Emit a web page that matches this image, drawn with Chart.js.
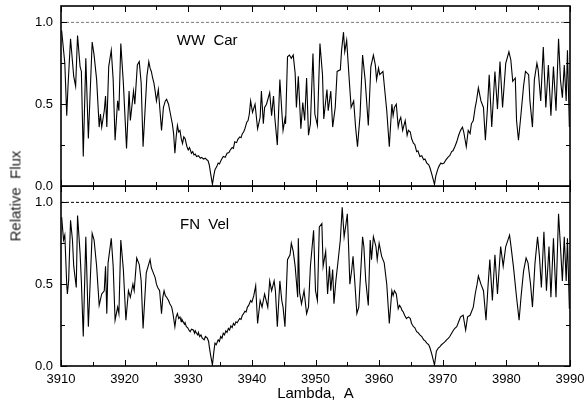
<!DOCTYPE html>
<html>
<head>
<meta charset="utf-8">
<script src="https://cdn.jsdelivr.net/npm/chart.js@4.4.1/dist/chart.umd.min.js"></script>
<style>
    html, body { margin: 0; padding: 0; background: #fff; }
    #wrap { position: relative; width: 584px; height: 411px; font-family: "Liberation Sans", Arial, sans-serif; }
    #topChart { position: absolute; left: 0; top: 0; }
    #botChart { position: absolute; left: 0; top: 186px; }
    #ylabel {
        position: absolute; left: 15px; top: 196px;
        transform: translate(-50%, -50%) rotate(-90deg);
        white-space: pre; font-size: 15px; color: #222;
    }
</style>
</head>
<body>
<div id="wrap">
    <canvas id="topChart" width="584" height="196"></canvas>
    <canvas id="botChart" width="584" height="225"></canvas>
    <div id="ylabel">Relative  Flux</div>
</div>
<script>
// WW Car spectrum: [wavelength A, relative flux]
const wwCar = [
    [3910.1, 0.95], [3910.6, 0.75], [3910.9, 0.43], [3911.1, 0.61], [3911.5, 0.90], [3912.0, 0.67],
    [3912.3, 0.61], [3912.6, 0.92], [3913.0, 0.73], [3913.2, 0.70], [3913.5, 0.18], [3913.9, 0.78],
    [3914.3, 0.29], [3914.9, 0.88], [3915.2, 0.80], [3915.6, 0.65], [3916.0, 0.36], [3916.2, 0.44],
    [3916.4, 0.36], [3916.8, 0.46], [3917.0, 0.55], [3917.2, 0.36], [3917.5, 0.73], [3917.9, 0.83],
    [3918.2, 0.65], [3918.5, 0.28], [3918.9, 0.52], [3919.1, 0.46], [3919.4, 0.87], [3919.8, 0.63],
    [3920.3, 0.23], [3920.7, 0.58], [3920.9, 0.40], [3921.4, 0.58], [3921.6, 0.50], [3922.0, 0.74],
    [3922.3, 0.76], [3922.6, 0.63], [3922.9, 0.24], [3923.5, 0.67], [3923.8, 0.76], [3924.0, 0.72],
    [3924.2, 0.70], [3924.4, 0.66], [3924.6, 0.63], [3924.8, 0.58], [3925.0, 0.52], [3925.3, 0.59],
    [3925.6, 0.44], [3925.8, 0.34], [3926.1, 0.48], [3926.4, 0.52], [3926.6, 0.53], [3926.9, 0.50],
    [3927.2, 0.44], [3927.5, 0.38], [3927.7, 0.32], [3927.9, 0.20], [3928.1, 0.30], [3928.3, 0.37],
    [3928.5, 0.33], [3928.7, 0.34], [3928.9, 0.29], [3929.1, 0.26], [3929.3, 0.30], [3929.5, 0.29],
    [3929.8, 0.24], [3930.0, 0.22], [3930.2, 0.235], [3930.5, 0.20], [3930.7, 0.21], [3930.9, 0.19],
    [3931.1, 0.195], [3931.3, 0.18], [3931.6, 0.185], [3931.9, 0.17], [3932.1, 0.175], [3932.4, 0.165],
    [3932.7, 0.17], [3932.9, 0.16], [3933.1, 0.155], [3933.3, 0.13], [3933.5, 0.08], [3933.8, 0.01],
    [3934.0, 0.06], [3934.2, 0.10], [3934.5, 0.12], [3934.7, 0.14], [3934.9, 0.135], [3935.2, 0.16],
    [3935.5, 0.18], [3935.8, 0.175], [3936.1, 0.20], [3936.4, 0.205], [3936.6, 0.22], [3936.9, 0.235],
    [3937.1, 0.23], [3937.3, 0.27], [3937.6, 0.265], [3937.8, 0.285], [3938.1, 0.30], [3938.3, 0.295],
    [3938.5, 0.32], [3938.7, 0.33], [3938.9, 0.35], [3939.2, 0.39], [3939.4, 0.40], [3939.6, 0.44],
    [3939.8, 0.52], [3940.1, 0.45], [3940.5, 0.50], [3940.9, 0.35], [3941.3, 0.42], [3941.5, 0.58],
    [3941.8, 0.38], [3942.0, 0.48], [3942.3, 0.50], [3942.8, 0.57], [3943.1, 0.43], [3943.4, 0.55],
    [3943.6, 0.42], [3944.0, 0.25], [3944.4, 0.65], [3944.7, 0.46], [3944.9, 0.34], [3945.2, 0.41],
    [3945.3, 0.38], [3945.6, 0.79], [3945.9, 0.80], [3946.2, 0.78], [3946.5, 0.80], [3946.8, 0.69],
    [3947.0, 0.48], [3947.3, 0.67], [3947.7, 0.35], [3948.0, 0.51], [3948.3, 0.40], [3948.6, 0.66],
    [3948.9, 0.31], [3949.2, 0.38], [3949.6, 0.81], [3949.9, 0.44], [3950.3, 0.37], [3950.7, 0.87],
    [3951.1, 0.68], [3951.3, 0.41], [3951.8, 0.59], [3952.0, 0.46], [3952.4, 0.58], [3952.7, 0.36],
    [3953.1, 0.48], [3953.4, 0.70], [3953.9, 0.71], [3954.1, 0.83], [3954.4, 0.94], [3954.6, 0.82],
    [3954.9, 0.89], [3955.3, 0.65], [3955.6, 0.48], [3956.0, 0.52], [3956.3, 0.36], [3956.6, 0.24],
    [3957.0, 0.43], [3957.4, 0.80], [3957.8, 0.65], [3958.3, 0.37], [3958.7, 0.73], [3959.1, 0.80],
    [3959.4, 0.74], [3959.6, 0.65], [3959.9, 0.72], [3960.1, 0.68], [3960.6, 0.70], [3961.2, 0.46],
    [3961.6, 0.24], [3962.0, 0.50], [3962.2, 0.43], [3962.4, 0.48], [3962.7, 0.50], [3963.0, 0.36],
    [3963.2, 0.40], [3963.4, 0.42], [3963.7, 0.34], [3963.9, 0.37], [3964.1, 0.40], [3964.4, 0.31],
    [3964.6, 0.34], [3964.9, 0.33], [3965.1, 0.29], [3965.4, 0.26], [3965.6, 0.255], [3965.9, 0.21],
    [3966.1, 0.215], [3966.4, 0.18], [3966.7, 0.185], [3967.0, 0.16], [3967.2, 0.165], [3967.5, 0.14],
    [3967.8, 0.13], [3968.0, 0.11], [3968.3, 0.07], [3968.7, 0.01], [3968.9, 0.06], [3969.2, 0.10],
    [3969.4, 0.12], [3969.7, 0.14], [3969.9, 0.135], [3970.2, 0.14], [3970.5, 0.16], [3970.9, 0.18],
    [3971.1, 0.185], [3971.4, 0.21], [3971.6, 0.215], [3971.9, 0.24], [3972.2, 0.27], [3972.5, 0.31],
    [3972.8, 0.34], [3973.1, 0.36], [3973.3, 0.33], [3973.7, 0.24], [3974.0, 0.34], [3974.3, 0.32],
    [3974.5, 0.38], [3974.8, 0.40], [3975.1, 0.48], [3975.3, 0.52], [3975.6, 0.60], [3976.0, 0.52],
    [3976.4, 0.48], [3976.7, 0.28], [3977.0, 0.46], [3977.3, 0.68], [3977.7, 0.36], [3978.2, 0.70],
    [3978.6, 0.47], [3979.0, 0.76], [3979.4, 0.48], [3979.9, 0.75], [3980.4, 0.82], [3980.7, 0.77],
    [3981.0, 0.64], [3981.4, 0.66], [3981.6, 0.40], [3981.9, 0.28], [3982.3, 0.44], [3982.7, 0.61],
    [3983.0, 0.70], [3983.5, 0.68], [3983.7, 0.52], [3984.1, 0.36], [3984.4, 0.65], [3984.8, 0.75],
    [3985.0, 0.71], [3985.4, 0.52], [3985.8, 0.85], [3986.2, 0.48], [3986.6, 0.74], [3987.0, 0.43],
    [3987.4, 0.73], [3987.8, 0.46], [3988.2, 0.90], [3988.5, 0.65], [3988.8, 0.54], [3989.1, 0.74],
    [3989.4, 0.52], [3989.6, 0.83], [3989.9, 0.36]
];

// FN Vel spectrum: [wavelength A, relative flux]
const fnVel = [
    [3910.1, 0.91], [3910.4, 0.77], [3910.6, 0.80], [3910.9, 0.50], [3911.0, 0.44], [3911.2, 0.52],
    [3911.5, 0.89], [3911.8, 0.77], [3912.0, 0.61], [3912.4, 0.48], [3912.6, 0.92], [3913.0, 0.69],
    [3913.2, 0.52], [3913.5, 0.18], [3913.9, 0.79], [3914.3, 0.24], [3914.9, 0.81], [3915.2, 0.77],
    [3915.6, 0.61], [3916.0, 0.37], [3916.4, 0.44], [3916.8, 0.46], [3917.0, 0.61], [3917.2, 0.32],
    [3917.4, 0.63], [3917.9, 0.78], [3918.2, 0.61], [3918.5, 0.28], [3918.9, 0.36], [3919.1, 0.32],
    [3919.4, 0.77], [3919.8, 0.59], [3920.2, 0.28], [3920.6, 0.46], [3920.9, 0.42], [3921.3, 0.50],
    [3921.5, 0.46], [3921.9, 0.66], [3922.3, 0.62], [3922.6, 0.52], [3922.9, 0.23], [3923.4, 0.57],
    [3923.7, 0.61], [3924.0, 0.65], [3924.2, 0.60], [3924.4, 0.58], [3924.6, 0.56], [3924.8, 0.54],
    [3925.0, 0.50], [3925.2, 0.48], [3925.5, 0.46], [3925.8, 0.32], [3926.0, 0.42], [3926.2, 0.46],
    [3926.4, 0.43], [3926.6, 0.42], [3926.9, 0.40], [3927.1, 0.38], [3927.4, 0.36], [3927.6, 0.32],
    [3927.9, 0.24], [3928.1, 0.30], [3928.3, 0.32], [3928.5, 0.29], [3928.7, 0.30], [3928.9, 0.27],
    [3929.0, 0.285], [3929.2, 0.27], [3929.4, 0.255], [3929.5, 0.265], [3929.7, 0.24], [3929.9, 0.235],
    [3930.1, 0.22], [3930.3, 0.21], [3930.5, 0.225], [3930.8, 0.22], [3931.0, 0.20], [3931.1, 0.215],
    [3931.3, 0.20], [3931.5, 0.19], [3931.6, 0.205], [3931.8, 0.18], [3932.0, 0.19], [3932.2, 0.17],
    [3932.5, 0.16], [3932.7, 0.18], [3933.0, 0.17], [3933.2, 0.15], [3933.3, 0.12], [3933.5, 0.07],
    [3933.8, 0.006], [3934.0, 0.08], [3934.2, 0.14], [3934.4, 0.13], [3934.7, 0.16], [3934.9, 0.15],
    [3935.1, 0.18], [3935.3, 0.17], [3935.5, 0.20], [3935.7, 0.19], [3935.9, 0.215], [3936.1, 0.205],
    [3936.3, 0.23], [3936.5, 0.22], [3936.7, 0.245], [3936.9, 0.235], [3937.1, 0.26], [3937.3, 0.25],
    [3937.5, 0.27], [3937.7, 0.265], [3937.9, 0.28], [3938.1, 0.29], [3938.3, 0.285], [3938.5, 0.31],
    [3938.7, 0.32], [3938.9, 0.335], [3939.1, 0.33], [3939.3, 0.36], [3939.5, 0.37], [3939.8, 0.40],
    [3940.0, 0.39], [3940.3, 0.43], [3940.6, 0.49], [3940.9, 0.26], [3941.3, 0.40], [3941.6, 0.36],
    [3942.0, 0.44], [3942.5, 0.36], [3942.8, 0.52], [3943.1, 0.46], [3943.5, 0.52], [3943.7, 0.46],
    [3944.0, 0.24], [3944.4, 0.52], [3944.7, 0.40], [3944.9, 0.36], [3945.2, 0.24], [3945.6, 0.65],
    [3946.0, 0.68], [3946.2, 0.75], [3946.5, 0.70], [3946.8, 0.61], [3947.2, 0.42], [3947.3, 0.78],
    [3947.5, 0.45], [3947.8, 0.38], [3948.2, 0.46], [3948.6, 0.32], [3948.9, 0.36], [3949.2, 0.61],
    [3949.7, 0.83], [3950.0, 0.46], [3950.3, 0.40], [3950.6, 0.85], [3951.0, 0.87], [3951.2, 0.61],
    [3951.6, 0.70], [3951.9, 0.44], [3952.2, 0.61], [3952.4, 0.46], [3952.7, 0.59], [3952.9, 0.38],
    [3953.2, 0.52], [3953.6, 0.66], [3953.9, 0.77], [3954.2, 0.97], [3954.5, 0.79], [3954.8, 0.87],
    [3955.0, 0.93], [3955.2, 0.73], [3955.4, 0.50], [3955.7, 0.59], [3955.9, 0.67], [3956.2, 0.50],
    [3956.5, 0.32], [3956.8, 0.36], [3957.1, 0.57], [3957.4, 0.79], [3957.6, 0.73], [3957.9, 0.52],
    [3958.3, 0.37], [3958.6, 0.77], [3958.8, 0.65], [3959.1, 0.79], [3959.5, 0.73], [3959.7, 0.65],
    [3960.0, 0.75], [3960.4, 0.67], [3960.8, 0.63], [3961.2, 0.50], [3961.6, 0.26], [3962.0, 0.46],
    [3962.2, 0.43], [3962.4, 0.46], [3962.7, 0.44], [3963.0, 0.35], [3963.2, 0.37], [3963.4, 0.36],
    [3963.6, 0.34], [3963.8, 0.33], [3964.0, 0.31], [3964.3, 0.29], [3964.6, 0.30], [3964.9, 0.29],
    [3965.1, 0.26], [3965.4, 0.24], [3965.6, 0.235], [3965.9, 0.21], [3966.1, 0.205], [3966.4, 0.19],
    [3966.7, 0.18], [3967.0, 0.16], [3967.2, 0.155], [3967.5, 0.14], [3967.8, 0.13], [3968.0, 0.11],
    [3968.3, 0.07], [3968.7, 0.006], [3969.0, 0.09], [3969.3, 0.11], [3969.6, 0.12], [3969.8, 0.13],
    [3970.1, 0.14], [3970.4, 0.15], [3970.6, 0.16], [3970.9, 0.17], [3971.1, 0.18], [3971.4, 0.20],
    [3971.7, 0.22], [3971.9, 0.23], [3972.2, 0.24], [3972.5, 0.27], [3972.8, 0.30], [3973.2, 0.31],
    [3973.6, 0.22], [3973.9, 0.30], [3974.3, 0.31], [3974.8, 0.36], [3975.1, 0.44], [3975.4, 0.50],
    [3975.6, 0.55], [3976.0, 0.50], [3976.4, 0.46], [3976.8, 0.28], [3977.1, 0.48], [3977.4, 0.65],
    [3977.8, 0.40], [3978.2, 0.68], [3978.6, 0.44], [3979.1, 0.73], [3979.5, 0.61], [3979.9, 0.73],
    [3980.5, 0.80], [3980.7, 0.74], [3981.1, 0.61], [3981.6, 0.42], [3982.0, 0.28], [3982.3, 0.42],
    [3982.7, 0.58], [3983.1, 0.66], [3983.4, 0.63], [3983.8, 0.50], [3984.1, 0.36], [3984.5, 0.63],
    [3984.9, 0.79], [3985.2, 0.67], [3985.5, 0.48], [3985.9, 0.82], [3986.3, 0.46], [3986.7, 0.73],
    [3987.0, 0.42], [3987.4, 0.78], [3987.8, 0.42], [3988.2, 0.93], [3988.5, 0.73], [3988.8, 0.52],
    [3989.1, 0.79], [3989.4, 0.52], [3989.6, 0.78], [3989.9, 0.35]
];

const xRange = [3910, 3990];
const yRange = [0, 1.1];
const xMajorTicks = [3910, 3920, 3930, 3940, 3950, 3960, 3970, 3980, 3990];
const xMinorTicks = [3915, 3925, 3935, 3945, 3955, 3965, 3975, 3985];
const yMajorTicks = [0, 0.5, 1.0];
const yMinorTicks = [0.25, 0.75];
const continuumLevel = 1.0;

const FONT = '"Liberation Sans", Arial, sans-serif';

function toPoints(pairs) {
    return pairs.map((p) => ({ x: p[0], y: p[1] }));
}

// frame with inward ticks on all four sides, plus the star name
const framePlugin = {
    id: "frame",
    afterDraw(chart, args, opts) {
        const { ctx, chartArea: a } = chart;
        const xs = chart.scales.x;
        const ys = chart.scales.y;
        ctx.save();
        ctx.strokeStyle = "#000";
        ctx.lineWidth = 1;
        ctx.beginPath();
        const tick = (list, len) => {
            list.forEach((v) => {
                const px = Math.round(xs.getPixelForValue(v)) + 0.5;
                ctx.moveTo(px, a.bottom); ctx.lineTo(px, a.bottom - len);
                ctx.moveTo(px, a.top); ctx.lineTo(px, a.top + len);
            });
        };
        const ytick = (list, len) => {
            list.forEach((v) => {
                const py = Math.round(ys.getPixelForValue(v)) + 0.5;
                ctx.moveTo(a.left, py); ctx.lineTo(a.left + len, py);
                ctx.moveTo(a.right, py); ctx.lineTo(a.right - len, py);
            });
        };
        tick(xMajorTicks, 6);
        tick(xMinorTicks, 4);
        ytick(yMajorTicks, 6);
        ytick(yMinorTicks, 4);
        ctx.stroke();

        ctx.lineWidth = 1.6;
        ctx.strokeRect(a.left, a.top, a.right - a.left, a.bottom - a.top);

        ctx.fillStyle = "#000";
        ctx.font = "15px " + FONT;
        ctx.textAlign = "left";
        ctx.textBaseline = "middle";
        ctx.fillText(opts.label, xs.getPixelForValue(opts.at[0]), ys.getPixelForValue(opts.at[1]));
        ctx.restore();
    },
};

function makeChart(id, pairs, label, labelAt, dashColor, showX) {
    const ctx = document.getElementById(id).getContext("2d");
    return new Chart(ctx, {
        type: "line",
        data: {
            datasets: [
                {
                    data: [{ x: xRange[0], y: continuumLevel }, { x: xRange[1], y: continuumLevel }],
                    borderColor: dashColor,
                    borderWidth: 1,
                    borderDash: [3, 2],
                    pointRadius: 0,
                },
                {
                    data: toPoints(pairs),
                    borderColor: "#000",
                    borderWidth: 1.1,
                    pointRadius: 0,
                    tension: 0,
                },
            ],
        },
        options: {
            responsive: false,
            animation: false,
            layout: {
                autoPadding: false,
                padding: { top: showX ? 0 : 6, right: 14, bottom: showX ? 0 : 10, left: 0 },
            },
            plugins: {
                legend: { display: false },
                tooltip: { enabled: false },
                frame: { label: label, at: labelAt },
            },
            scales: {
                x: {
                    type: "linear",
                    display: showX,
                    min: xRange[0],
                    max: xRange[1],
                    afterBuildTicks: (s) => { s.ticks = xMajorTicks.map((v) => ({ value: v })); },
                    afterFit: (s) => {
                        s.height = showX ? 45 : 0;
                        s.paddingLeft = 0; s.paddingRight = 0;
                    },
                    grid: { display: false, drawTicks: false },
                    border: { display: false },
                    ticks: {
                        color: "#000",
                        padding: 6,
                        maxRotation: 0,
                        font: { family: FONT, size: 13 },
                        callback: (v) => String(v),
                    },
                    title: {
                        display: true,
                        text: "Lambda,  A",
                        color: "#000",
                        font: { family: FONT, size: 15 },
                        padding: { top: 0, bottom: 8 },
                    },
                },
                y: {
                    type: "linear",
                    min: yRange[0],
                    max: yRange[1],
                    afterBuildTicks: (s) => { s.ticks = yMajorTicks.map((v) => ({ value: v })); },
                    afterFit: (s) => {
                        s.width = 61;
                        s.paddingTop = 0; s.paddingBottom = 0;
                    },
                    grid: { display: false, drawTicks: false },
                    border: { display: false },
                    ticks: {
                        color: "#000",
                        padding: 8,
                        font: { family: FONT, size: 13 },
                        callback: (v) => v.toFixed(1),
                    },
                },
            },
        },
        plugins: [framePlugin],
    });
}

makeChart("topChart", wwCar, "WW  Car", [3928.2, 0.89], "#777", false);
makeChart("botChart", fnVel, "FN  Vel", [3928.7, 0.86], "#000", true);
</script>
</body>
</html>
